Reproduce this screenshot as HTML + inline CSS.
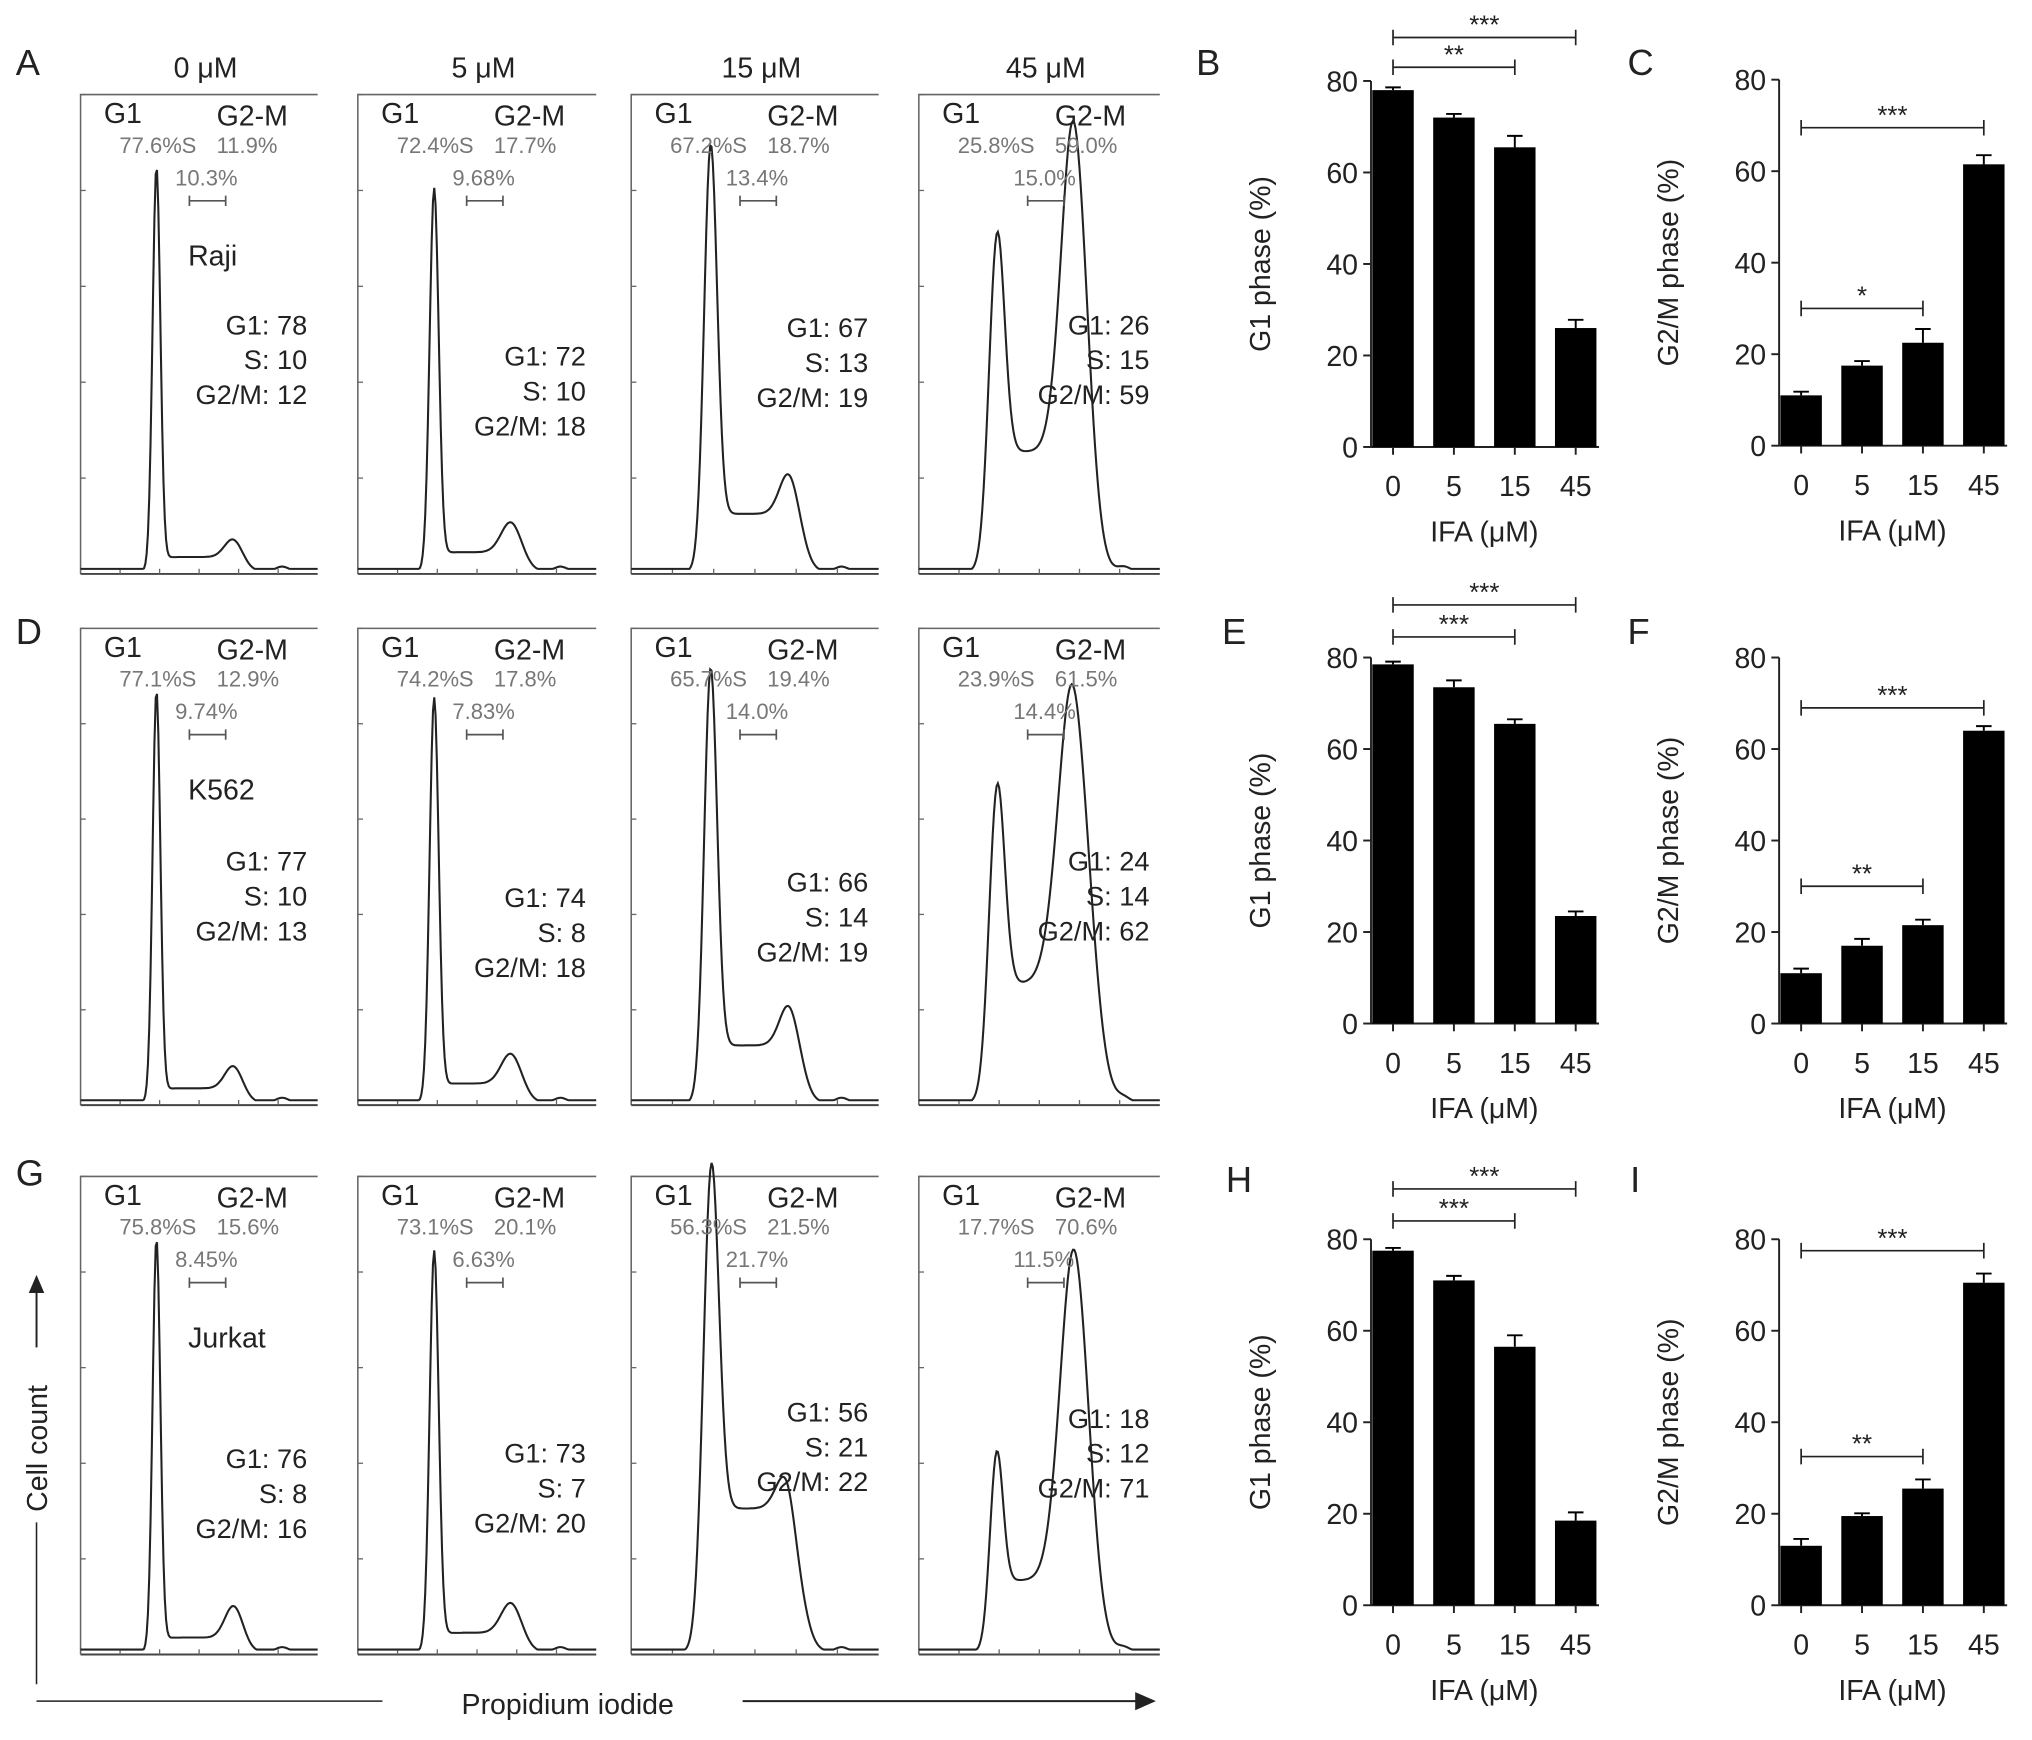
<!DOCTYPE html>
<html><head><meta charset="utf-8"><style>
html,body{margin:0;padding:0;background:#fff}
svg{display:block;font-family:"Liberation Sans",sans-serif}
</style></head><body>
<svg id="fig" width="2032" height="1740" viewBox="0 0 1568 1343" xmlns="http://www.w3.org/2000/svg"></svg>
<script>
// ---- Bar chart data ----
const doses = ["0","5","15","45"];
const barB = [78, 72, 65.5, 26];   const errB = [0.6, 0.8, 2.5, 1.8];
const barC = [11, 17.5, 22.5, 61.5]; const errC = [0.8, 1, 3, 2];
const barE = [78.5, 73.5, 65.5, 23.5]; const errE = [0.6, 1.5, 1, 1];
const barF = [11, 17, 21.5, 64];   const errF = [1, 1.5, 1.2, 1];
const barH = [77.5, 71, 56.5, 18.5]; const errH = [0.6, 1, 2.5, 1.8];
const barI = [13, 19.5, 25.5, 70.5]; const errI = [1.5, 0.6, 2, 2];
const yTicks = [0, 20, 40, 60, 80];
// significance: [fromIdx, toIdx, value level, label]
const sigB = [[0,2,83,"**"],[0,3,89.5,"***"]];
const sigC = [[0,2,30,"*"],[0,3,69.5,"***"]];
const sigE = [[0,2,84.5,"***"],[0,3,91.5,"***"]];
const sigF = [[0,2,30,"**"],[0,3,69,"***"]];
const sigH = [[0,2,84,"***"],[0,3,91,"***"]];
const sigI = [[0,2,32.5,"**"],[0,3,77.5,"***"]];

// ---- Histogram data: [g1 height, g2 height, s plateau, g1 width, g2 width] ----
const histParams = [
 [[0.83,0.05,0.03,3,7],[0.78,0.08,0.04,3.5,8],[0.83,0.13,0.12,5,8],[0.57,0.8,0.25,6,10]],
 [[0.85,0.06,0.03,3,7],[0.83,0.08,0.04,3.5,8],[0.85,0.13,0.12,5,8],[0.53,0.73,0.25,6,12]],
 [[0.85,0.08,0.03,3,7],[0.82,0.08,0.04,3.5,8],[0.86,0.15,0.3,6,9],[0.34,0.76,0.15,5,11]]
];
const heads = ["0 μM","5 μM","15 μM","45 μM"];
const cellLines = ["Raji","K562","Jurkat"];
const g1Pct = [["77.6%","72.4%","67.2%","25.8%"],["77.1%","74.2%","65.7%","23.9%"],["75.8%","73.1%","56.3%","17.7%"]];
const g2Pct = [["11.9%","17.7%","18.7%","59.0%"],["12.9%","17.8%","19.4%","61.5%"],["15.6%","20.1%","21.5%","70.6%"]];
const sPct = [["10.3%","9.68%","13.4%","15.0%"],["9.74%","7.83%","14.0%","14.4%"],["8.45%","6.63%","21.7%","11.5%"]];
const stats = [[[78,10,12],[72,10,18],[67,13,19],[26,15,59]],[[77,10,13],[74,8,18],[66,14,19],[24,14,62]],[[76,8,16],[73,7,20],[56,21,22],[18,12,71]]];

const NS="http://www.w3.org/2000/svg", svg=document.getElementById('fig');
function el(tag, attrs, parent, name, inter){
  const e=document.createElementNS(NS,tag);
  for(const k in attrs) e.setAttribute(k,attrs[k]);
  
  
  (parent||svg).appendChild(e); return e;
}
function txt(x,y,s,size,opts,name){
  const t=el('text',Object.assign({x:x,y:y,'font-size':size,fill:'#222'},opts||{}),opts&&opts.parent||svg,name);
  t.textContent=s; return t;
}
[["A",12,58],["D",12,497],["G",12,915],["B",923,58],["C",1256,58],["E",943,497],["F",1256,497],["H",946,920],["I",1258,920]].forEach(l=>{
  txt(l[1],l[2],l[0],28,{},'panel-label-'+l[0].toLowerCase());
});
const colL=[62,276,487,709], colR=[245,460,678,895];
const rowT=[73,485,908], rowB=[443,853,1277];
const statY=[[258,282,260,258],[672,700,688,672],[1133,1129,1097,1102]];
heads.forEach((h,i)=>{txt((colL[i]+colR[i])/2+5,60,h,22,{'text-anchor':'middle'},'column-header');});
for(let r=0;r<3;r++)for(let c=0;c<4;c++){
  const L=colL[c],R=colR[c],T=rowT[r],B=rowB[r],W=R-L,H=B-T;
  const g=el('g',{},svg,'histogram-'+cellLines[r].toLowerCase()+'-'+heads[c].split(' ')[0]);
  el('path',{d:`M${L} ${B} L${L} ${T} L${R} ${T}`,stroke:'#666','stroke-width':1.2,fill:'none'},g,'histogram-frame');
  el('line',{x1:L,y1:B,x2:R,y2:B,stroke:'#444','stroke-width':1.5},g,'x-axis');
  for(let k=1;k<6;k++){el('line',{x1:L+W*k/6,y1:B,x2:L+W*k/6,y2:B-4,stroke:'#666'},g,'x-tick');el('line',{x1:L,y1:B-H*k/5,x2:L+4,y2:B-H*k/5,stroke:'#666'},g,'y-tick');}
  const p=histParams[r][c], x1=0.32, x2=0.65;
  let d='';
  for(let i=0;i<=W;i++){
    const x=i;
    const gg=v=>Math.exp(-0.5*v*v);
    let y=p[0]*gg((x-x1*W)/p[3])+p[1]*gg((x-x2*W)/p[4]);
    const s=1/(1+Math.exp(-(x-x1*W)/3))*(1/(1+Math.exp((x-x2*W)/4)));
    y+=p[2]*s + 0.01*gg((x-(x2+0.2)*W)/5);
    y=Math.max(y,0.005);
    d+=(i?'L':'M')+(L+x).toFixed(1)+' '+(B-2-y*H).toFixed(1);
  }
  el('path',{d:d,stroke:'#222','stroke-width':1.6,fill:'none'},g,'histogram-curve');
  txt(L+18,T+22,'G1',22,{parent:g},'g1-gate-label');
  txt(L+105,T+24,'G2-M',22,{parent:g},'g2m-gate-label');
  txt(L+30,T+45,g1Pct[r][c],17,{fill:'#777',parent:g},'g1-percent');
  txt(L+78,T+45,'S',17,{fill:'#777',parent:g},'s-gate-label');
  txt(L+105,T+45,g2Pct[r][c],17,{fill:'#777',parent:g},'g2m-percent');
  txt(L+73,T+70,sPct[r][c],17,{fill:'#777',parent:g},'s-percent');
  el('path',{d:`M${L+84} ${T+78} v8 M${L+84} ${T+82} H${L+112} M${L+112} ${T+78} v8`,stroke:'#555','stroke-width':1.3,fill:'none'},g,'s-gate-bracket');
  if(c===0) txt(L+83,T+132,cellLines[r],22,{parent:g},'cell-line-label');
  const sy=statY[r][c], st=stats[r][c];
  ['G1: '+st[0],'S: '+st[1],'G2/M: '+st[2]].forEach((s,k)=>txt(R-8,sy+k*27,s,21,{'text-anchor':'end',parent:g},'stats-line'));
}
txt(0,0,'Cell count',22,{transform:'translate(36,1118) rotate(-90)','text-anchor':'middle'},'y-axis-title');
el('line',{x1:28,y1:1040,x2:28,y2:995,stroke:'#222','stroke-width':1.5},svg,'y-arrow-line');
el('path',{d:'M22 998 L28 984 L34 998 Z',fill:'#222'},svg,'y-arrow-head');
el('line',{x1:28,y1:1175,x2:28,y2:1300,stroke:'#222','stroke-width':1.2},svg,'y-axis-line');
el('line',{x1:28,y1:1313,x2:295,y2:1313,stroke:'#222','stroke-width':1.2},svg,'x-axis-line');
txt(438,1323,'Propidium iodide',22,{'text-anchor':'middle'},'x-axis-title');
el('line',{x1:573,y1:1313,x2:878,y2:1313,stroke:'#222','stroke-width':1.5},svg,'x-arrow-line');
el('path',{d:'M876 1306 L892 1313 L876 1320 Z',fill:'#222'},svg,'x-arrow-head');

function barChart(name, ax, y0, vals, errs, sigs, ylab){
  const g=el('g',{},svg,'bar-chart-'+name);
  const ytop=y0-282.5;
  const ys=v=>y0-(v/80)*282.5;
  const xs=i=>ax+17+i*47;
  el('line',{x1:ax,y1:ytop,x2:ax,y2:y0,stroke:'#222','stroke-width':1.5},g,'y-axis');
  el('line',{x1:ax,y1:y0,x2:xs(3)+18,y2:y0,stroke:'#222','stroke-width':1.5},g,'x-axis');
  yTicks.forEach(t=>{el('line',{x1:ax-6,y1:ys(t),x2:ax,y2:ys(t),stroke:'#222','stroke-width':1.5},g,'y-tick');
    txt(ax-10,ys(t)+8,String(t),22,{'text-anchor':'end',parent:g},'y-tick-label');});
  vals.forEach((v,i)=>{
    el('rect',{x:xs(i)-16,y:ys(v),width:32,height:y0-ys(v),fill:'#000'},g,'bar-'+doses[i]+'um');
    const e=errs[i];
    el('path',{d:`M${xs(i)} ${ys(v)} V${ys(v+e)} M${xs(i)-6} ${ys(v+e)} H${xs(i)+6}`,stroke:'#000','stroke-width':1.5,fill:'none'},g,'error-bar');
    el('line',{x1:xs(i),y1:y0,x2:xs(i),y2:y0+6,stroke:'#222','stroke-width':1.5},g,'x-tick');
    txt(xs(i),y0+38,doses[i],22,{'text-anchor':'middle',parent:g},'x-tick-label');
  });
  txt(xs(1.5),y0+73,'IFA (μM)',22,{'text-anchor':'middle',parent:g},'x-axis-title');
  txt(0,0,ylab,22,{transform:`translate(${ax-78},${(y0+ytop)/2}) rotate(-90)`,'text-anchor':'middle',parent:g},'y-axis-title');
  sigs.forEach(s=>{const y=ys(s[2]);
    el('path',{d:`M${xs(s[0])} ${y-6} v12 M${xs(s[0])} ${y} H${xs(s[1])} M${xs(s[1])} ${y-6} v12`,stroke:'#222','stroke-width':1.3,fill:'none'},g,'significance-bracket');
    txt((xs(s[0])+xs(s[1]))/2,y-3,s[3],20,{'text-anchor':'middle',parent:g},'significance-label');});
}
barChart('b',1058,345,barB,errB,sigB,'G1 phase (%)');
barChart('c',1373,344,barC,errC,sigC,'G2/M phase (%)');
barChart('e',1058,790,barE,errE,sigE,'G1 phase (%)');
barChart('f',1373,790,barF,errF,sigF,'G2/M phase (%)');
barChart('h',1058,1239,barH,errH,sigH,'G1 phase (%)');
barChart('i',1373,1239,barI,errI,sigI,'G2/M phase (%)');
</script>
</body></html>
